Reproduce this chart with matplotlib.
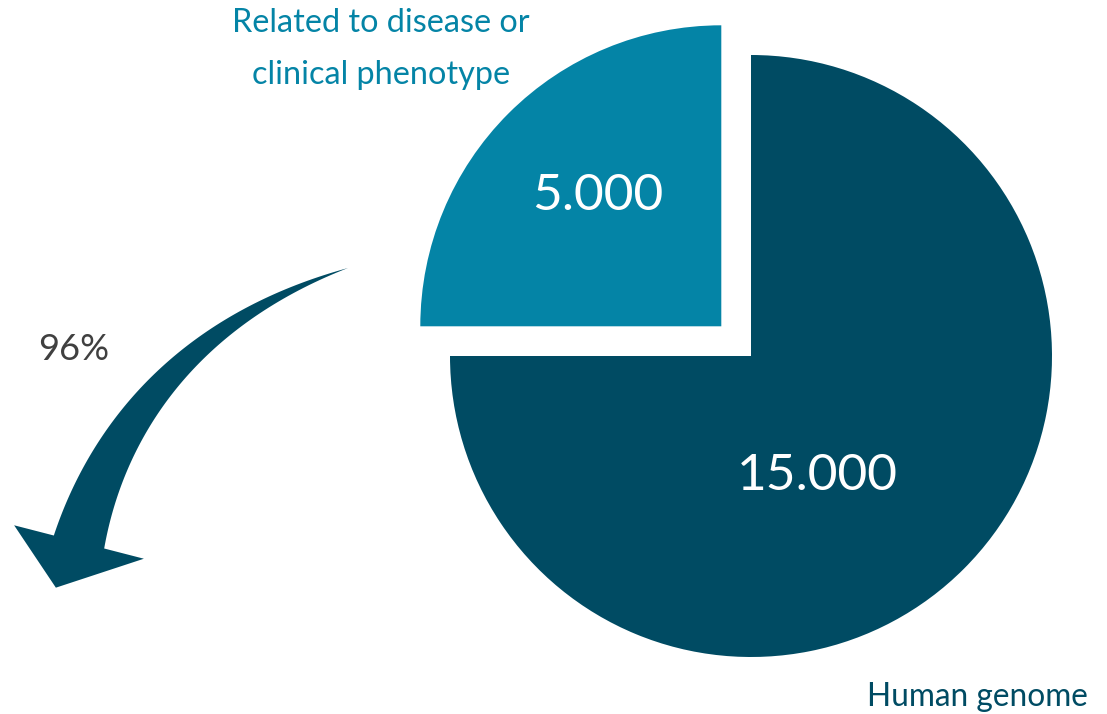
import numpy as np
import matplotlib.pyplot as plt
from matplotlib.patches import Polygon

W, H = 1107, 714

# chart data
categories = ['Related to disease or\nclinical phenotype', 'Human genome']
values = [5000, 15000]
colors = ['#0484a6', '#004b63']
share_label = '96%'

plt.rcParams['font.family'] = ['Lato', 'DejaVu Sans']

fig = plt.figure(figsize=(W / 100, H / 100), dpi=100)
ax = fig.add_axes([0, 0, 1, 1])


def px(x, y):
    # pixel coords (y down) -> data coords (y up)
    return x, H - y


# pie, small slice exploded towards upper left
cx, cy = px(751, 356)
ax.pie(values, colors=colors, startangle=90, counterclock=True,
       center=(cx, cy), radius=301, explode=[42, 0], frame=True,
       wedgeprops=dict(linewidth=0))

ax.set_xlim(0, W)
ax.set_ylim(0, H)
ax.set_aspect('equal')
ax.axis('off')

# value labels
fmt = lambda v: f"{v:,}".replace(',', '.')
ax.text(*px(598, 196), fmt(values[0]), color='white', fontsize=37,
        ha='center', va='center')
ax.text(*px(817, 476), fmt(values[1]), color='white', fontsize=37,
        ha='center', va='center')

# category labels
ax.text(*px(381, 49), categories[0], color=colors[0], fontsize=23.3,
        ha='center', va='center', linespacing=1.95)
ax.text(*px(977, 697), categories[1], color=colors[1], fontsize=22.8,
        ha='center', va='center')

# curved arrow (built in pixel coords)
p0 = np.array([348., 268.])
p3 = np.array([79., 542.])
d0 = np.array([-1., 0.33]); d0 /= np.linalg.norm(d0)
d3 = np.array([-0.25, 0.97]); d3 /= np.linalg.norm(d3)
p1 = p0 + 165 * d0
p2 = p3 - 120 * d3

t = np.linspace(0, 1, 80)[:, None]
curve = ((1 - t) ** 3 * p0 + 3 * (1 - t) ** 2 * t * p1
         + 3 * (1 - t) * t ** 2 * p2 + t ** 3 * p3)
deriv = (3 * (1 - t) ** 2 * (p1 - p0) + 6 * (1 - t) * t * (p2 - p1)
         + 3 * t ** 2 * (p3 - p2))
tang = deriv / np.linalg.norm(deriv, axis=1, keepdims=True)
norm = np.column_stack([-tang[:, 1], tang[:, 0]])
half = 26 * t
left = curve + norm * half
right = curve - norm * half

tend = tang[-1]
nend = np.array([-tend[1], tend[0]])
head = [p3 + nend * 67, p3 + tend * 50 + nend * 11, p3 - nend * 67]
if (left[-1] - p3) @ nend < 0:
    head = head[::-1]
pts = np.vstack([left, head, right[::-1]])
pts[:, 1] = H - pts[:, 1]
ax.add_patch(Polygon(pts, closed=True, facecolor=colors[1], edgecolor='none'))

ax.text(*px(74, 349), share_label, color='#404040', fontsize=26,
        ha='center', va='center')

fig.savefig('out.png', dpi=100)
